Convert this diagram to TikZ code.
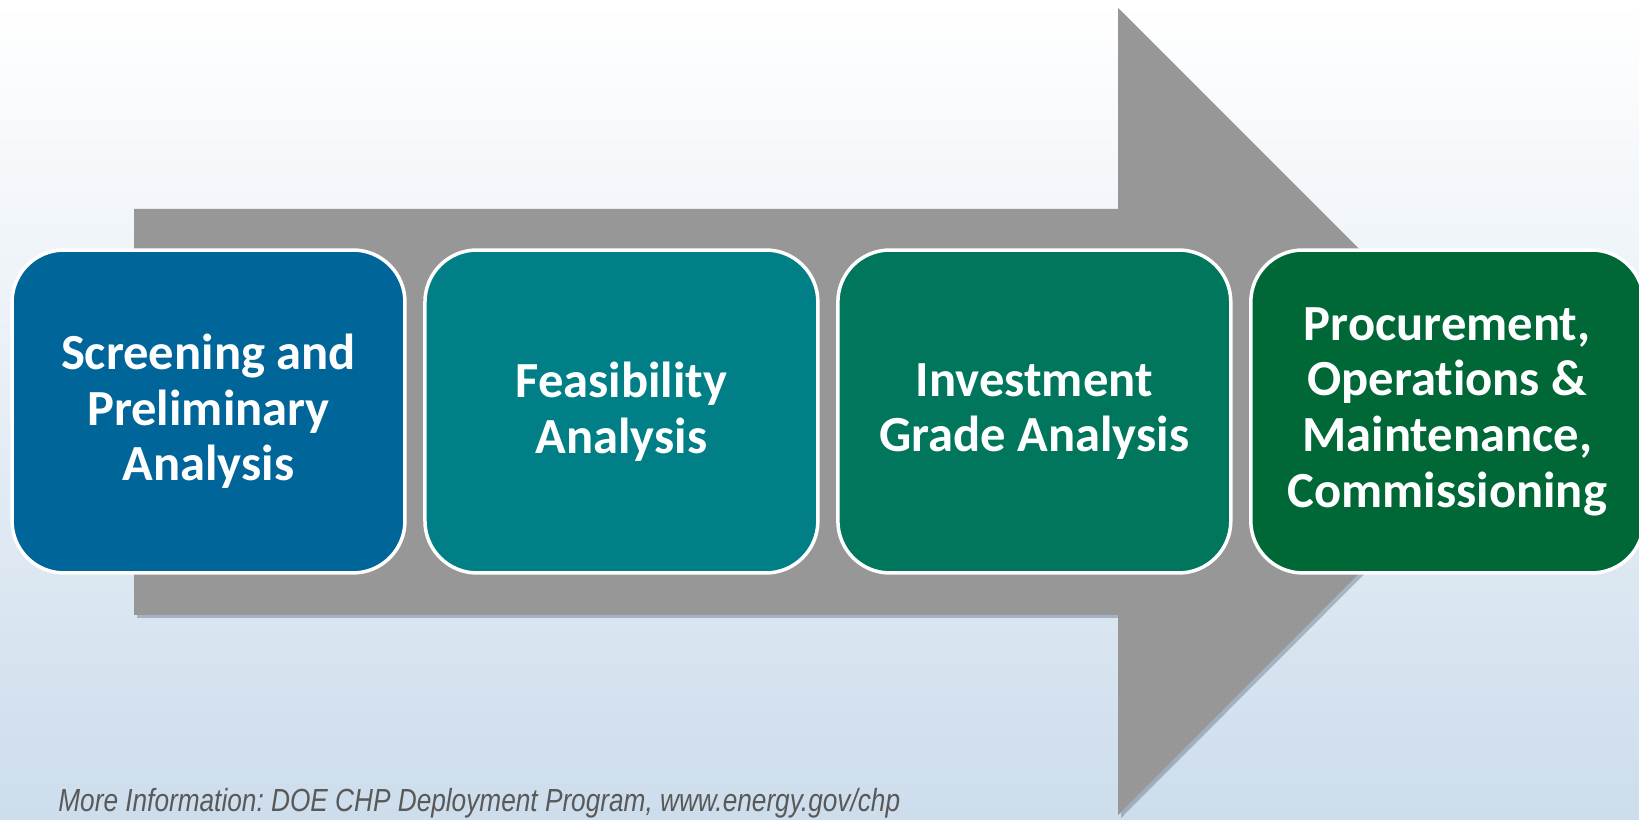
\documentclass[tikz,border=0pt]{standalone}
\usepackage{fontspec}
\setmainfont[Ligatures=NoCommon]{Carlito}
\newfontfamily\notefont[FakeStretch=0.82]{Liberation Sans}
\usetikzlibrary{positioning,shadows}

\definecolor{bgblue}{RGB}{205,221,236}
\definecolor{arrowgray}{RGB}{151,151,151}
\definecolor{shadowgray}{RGB}{70,85,105}
\definecolor{screenblue}{RGB}{0,102,153}
\definecolor{feasteal}{RGB}{0,127,134}
\definecolor{investgreen}{RGB}{0,118,92}
\definecolor{procgreen}{RGB}{0,104,55}
\definecolor{notegray}{RGB}{89,89,89}

\begin{document}
\frenchspacing
\begin{tikzpicture}[x=0.02cm,y=0.02cm,
  phase/.style={draw=white,line width=0.07cm,rounded corners=1.04cm,
    minimum width=7.86cm,minimum height=6.46cm,inner sep=0pt,outer sep=0pt,
    align=center,text=white,font=\bfseries\fontsize{28.8}{31.7}\selectfont},
  node distance=0.4cm]
\shade[top color=white,bottom color=bgblue] (0,0) rectangle (1639,820);
\useasboundingbox (0,0) rectangle (1639,820);

% big arrow behind the steps
\fill[arrowgray,drop shadow={fill=shadowgray,opacity=0.35,shadow xshift=0.06cm,shadow yshift=-0.06cm}]
  (134,205) -- (134,611) -- (1118,611) -- (1118,812) -- (1521,409) -- (1118,5) -- (1118,205) -- cycle;

% steps
\node[phase,fill=screenblue] (screen) at (208.5,408.5) {Screening and\\Preliminary\\Analysis};
\node[phase,fill=feasteal,right=of screen] (feas) {Feasibility\\Analysis};
\node[phase,fill=investgreen,right=of feas] (invest) {Investment\\Grade Analysis};
\node[phase,fill=procgreen,right=of invest] (proc) {Procurement,\\Operations \&\\Maintenance,\\Commissioning};

\node[anchor=base west,inner sep=0pt,text=notegray,font=\notefont\itshape\fontsize{18.2}{21}\selectfont] (note) at (58,8)
  {More Information: DOE CHP Deployment Program, www.energy.gov/chp};
\end{tikzpicture}
\end{document}
